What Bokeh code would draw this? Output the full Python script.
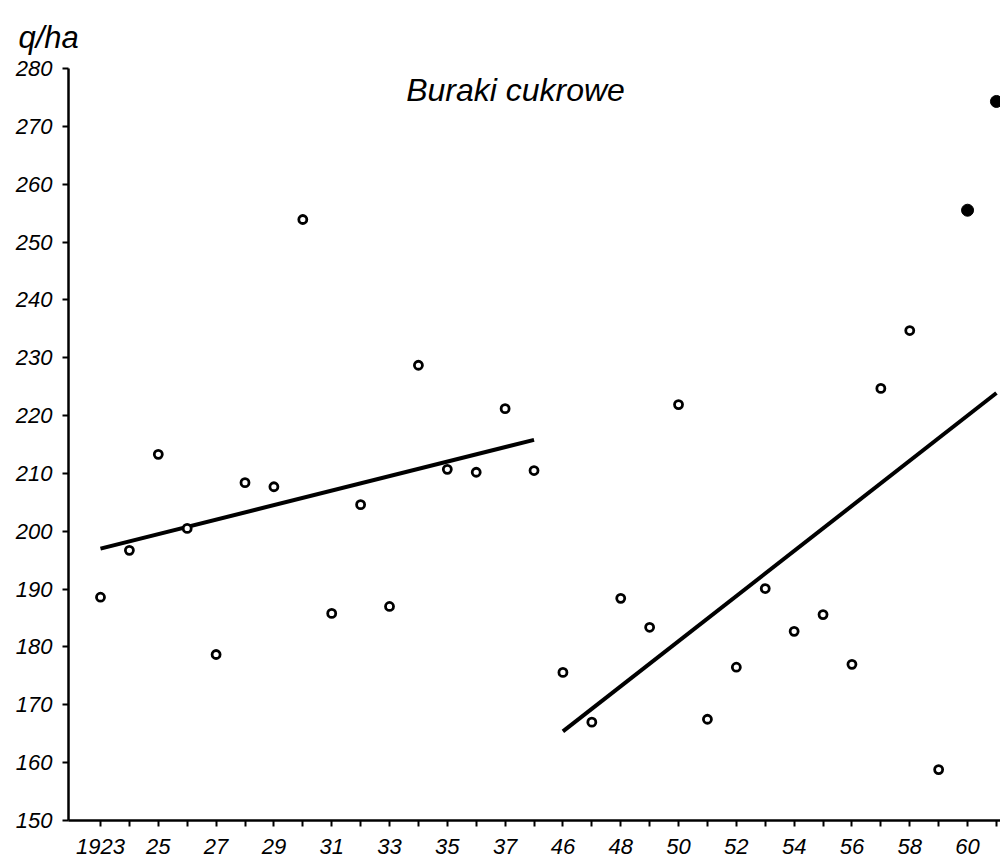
from bokeh.plotting import figure
from bokeh.models import FixedTicker, Range1d, Label
from bokeh.embed import file_html
from bokeh.resources import INLINE

# ---- data ----
years_pre = [1923, 1924, 1925, 1926, 1927, 1928, 1929, 1930,
             1931, 1932, 1933, 1934, 1935, 1936, 1937, 1938]
yield_pre = [188.6, 196.7, 213.3, 200.5, 178.7, 208.4, 207.7, 253.9,
             185.8, 204.6, 187.0, 228.7, 210.7, 210.2, 221.2, 210.5]

years_post = [1946, 1947, 1948, 1949, 1950, 1951, 1952, 1953,
              1954, 1955, 1956, 1957, 1958, 1959, 1960, 1961]
yield_post = [175.6, 167.0, 188.4, 183.4, 221.9, 167.5, 176.5, 190.1,
              182.7, 185.6, 177.0, 224.7, 234.7, 158.8, 255.5, 274.3]
filled_years = [1960, 1961]

trend_pre_years = [1923, 1938]
trend_pre_vals = [197.0, 215.8]
trend_post_years = [1946, 1961]
trend_post_vals = [165.4, 223.9]

y_ticks = [150, 160, 170, 180, 190, 200, 210, 220, 230, 240, 250, 260, 270, 280]
title_text = "Buraki cukrowe"
unit_text = "q/ha"

# slot position of every year on the broken time axis
all_years = years_pre + years_post
slot = {y: i for i, y in enumerate(all_years)}


def tick_label(y):
    i = slot[y]
    if i % 2:
        return ""
    return str(y) if i == 0 else str(y)[2:]


FONT = "Liberation Sans"

p = figure(width=1000, height=858, output_backend="svg", toolbar_location=None,
           x_range=Range1d(-1.107, 31.14), y_range=Range1d(150, 280),
           min_border_left=68, min_border_right=0, min_border_top=68,
           min_border_bottom=38)
p.grid.visible = False
p.outline_line_color = None
p.background_fill_color = "white"

# unit label as the figure title, top left
p.title.text = unit_text
p.title.align = "left"
p.title.offset = -50
p.title.standoff = 28
p.title.text_font = FONT
p.title.text_font_style = "italic"
p.title.text_font_size = "31px"
p.title.text_color = "black"

# axes
p.xaxis.ticker = FixedTicker(ticks=list(range(len(all_years))))
p.xaxis.major_label_overrides = {slot[y]: tick_label(y) for y in all_years}
p.yaxis.ticker = FixedTicker(ticks=y_ticks)
for ax in (p.xaxis[0], p.yaxis[0]):
    ax.axis_line_width = 2.5
    ax.axis_line_color = "black"
    ax.major_tick_line_width = 2
    ax.major_tick_line_color = "black"
    ax.major_tick_in = 0
    ax.major_tick_out = 6
    ax.minor_tick_line_color = None
    ax.major_label_text_font = FONT
    ax.major_label_text_font_style = "italic"
    ax.major_label_text_font_size = "22px"
    ax.major_label_text_color = "black"
p.xaxis.major_label_standoff = 12
p.yaxis.major_label_standoff = 10

# trend lines
p.line([slot[y] for y in trend_pre_years], trend_pre_vals,
       line_width=4, line_color="black")
p.line([slot[y] for y in trend_post_years], trend_post_vals,
       line_width=4, line_color="black")

# points
open_x, open_y, fill_x, fill_y = [], [], [], []
for y, v in zip(all_years, yield_pre + yield_post):
    if y in filled_years:
        fill_x.append(slot[y]); fill_y.append(v)
    else:
        open_x.append(slot[y]); open_y.append(v)
p.scatter(open_x, open_y, size=8, marker="circle", fill_color="white",
          line_color="black", line_width=2.8)
p.scatter(fill_x, fill_y, size=12, marker="circle", fill_color="black",
          line_color="black")

# chart title inside the frame
p.add_layout(Label(x=14.36, y=276.2, text=title_text, text_font=FONT,
                   text_font_style="italic", text_font_size="32px",
                   text_align="center", text_baseline="middle",
                   text_color="black"))

open("out.html", "w").write(file_html(p, INLINE))
